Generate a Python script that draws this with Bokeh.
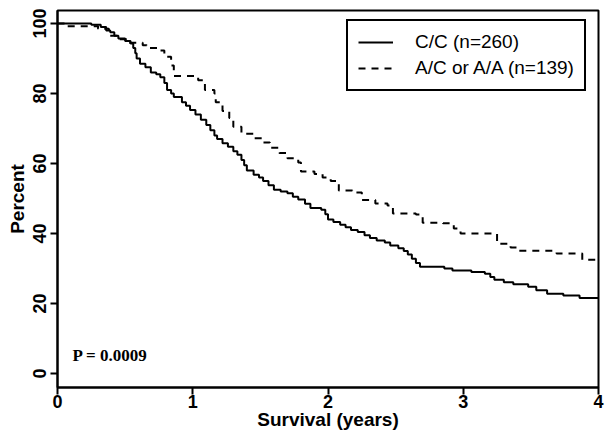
from bokeh.plotting import figure
from bokeh.models import Range1d, FixedTicker, Label, Legend
from bokeh.embed import file_html
from bokeh.resources import INLINE

# C/C (n=260) Kaplan-Meier steps (years, percent)
cc_t = [0, 0.25, 0.32, 0.36, 0.39, 0.42, 0.45, 0.50, 0.54, 0.56, 0.575, 0.585, 0.61, 0.65,
        0.69, 0.73, 0.76, 0.79, 0.81, 0.84, 0.86, 0.92, 0.95, 0.98, 1.02, 1.06, 1.10, 1.13,
        1.16, 1.18, 1.22, 1.26, 1.30, 1.33, 1.36, 1.38, 1.40, 1.45, 1.49, 1.52, 1.56, 1.60,
        1.65, 1.70, 1.74, 1.78, 1.83, 1.87, 1.95, 1.98, 2.00, 2.04, 2.09, 2.13, 2.17, 2.22,
        2.27, 2.31, 2.36, 2.42, 2.46, 2.52, 2.56, 2.59, 2.62, 2.65, 2.68, 2.86, 2.92, 3.06,
        3.16, 3.20, 3.23, 3.30, 3.37, 3.48, 3.54, 3.62, 3.74, 3.86, 4.0]
cc_s = [100, 99.6, 99, 98, 97.5, 96.5, 95.7, 95, 94.3, 93, 91.5, 90, 88.5, 87.5,
        86, 85.5, 84.6, 83, 81, 80, 79, 77.5, 76.5, 75.3, 74, 72.5, 71, 69.5,
        68, 67, 65.8, 64.8, 63.5, 62.5, 61, 59.5, 58, 56.8, 56, 55, 53.8, 52.5,
        52, 51.5, 50.5, 49.7, 48.5, 47.3, 46.8, 45.5, 44, 43.3, 42.5, 41.8, 41, 40.4,
        39.5, 38.7, 38, 37.4, 36.6, 35.8, 35, 34, 32.8, 31.6, 30.5, 30, 29.4, 29,
        28.5, 27.6, 26.8, 26.1, 25.5, 24.8, 23.8, 22.8, 22.3, 21.6, 21.6]

# A/C or A/A (n=139)
ac_t = [0, 0.07, 0.30, 0.38, 0.44, 0.53, 0.63, 0.66, 0.74, 0.79, 0.84, 0.86, 1.04, 1.09,
        1.16, 1.17, 1.22, 1.27, 1.30, 1.36, 1.45, 1.52, 1.57, 1.64, 1.70, 1.78, 1.80, 1.90,
        1.96, 2.02, 2.07, 2.08, 2.18, 2.25, 2.35, 2.44, 2.48, 2.65, 2.70, 2.85, 2.93, 2.98,
        3.25, 3.35, 3.40, 3.69, 3.88, 4.0]
ac_s = [100, 99.2, 98.5, 96.5, 95.5, 94.5, 93.8, 93, 92.3, 90.5, 88, 85, 83.8, 81,
        80, 77.5, 75, 73, 70.5, 68.5, 67.2, 66, 64.5, 63, 61.5, 60.3, 57.7, 57,
        56, 55, 54.2, 52.3, 51.7, 49.6, 48.6, 48, 45.7, 45.4, 43.1, 42.9, 41.4, 40,
        37.1, 36, 35.1, 34.3, 32.5, 32.5]

x_ticks = [0, 1, 2, 3, 4]
y_ticks = [0, 20, 40, 60, 80, 100]
label_cc = "C/C (n=260)"
label_ac = "A/C or A/A (n=139)"
p_text = "P = 0.0009"

p = figure(width=612, height=438, output_backend="svg", toolbar_location=None,
           x_range=Range1d(0, 4), y_range=Range1d(-4, 103.7),
           min_border_left=57, min_border_right=14, min_border_top=10, min_border_bottom=51)
p.xgrid.visible = False
p.ygrid.visible = False
p.outline_line_color = "black"
p.outline_line_width = 2
p.background_fill_color = "white"
p.border_fill_color = "white"

r1 = p.step(cc_t, cc_s, mode="after", line_color="black", line_width=2)
r2 = p.step(ac_t, ac_s, mode="after", line_color="black", line_width=2, line_dash="7 6")

for ax in (p.xaxis[0], p.yaxis[0]):
    ax.axis_line_width = 2
    ax.major_tick_line_width = 2
    ax.major_tick_out = 7
    ax.major_tick_in = 0
    ax.minor_tick_line_color = None
    ax.major_label_text_font = "Liberation Sans"
    ax.major_label_text_font_style = "bold"
    ax.major_label_text_font_size = "18px"
    ax.major_label_text_color = "black"
    ax.axis_label_text_font = "Liberation Sans"
    ax.axis_label_text_font_style = "bold"
    ax.axis_label_text_font_size = "19px"
    ax.axis_label_text_color = "black"

p.xaxis.ticker = FixedTicker(ticks=x_ticks)
p.yaxis.ticker = FixedTicker(ticks=y_ticks)
p.xaxis.axis_label = "Survival (years)"
p.yaxis.axis_label = "Percent"
p.yaxis.major_label_orientation = "vertical"
p.xaxis.major_label_standoff = 0
p.yaxis.major_label_standoff = 4
p.xaxis.axis_label_standoff = -2
p.yaxis.axis_label_standoff = 3

legend = Legend(items=[(label_cc, [r1]), (label_ac, [r2])], location=(289, 296))
legend.border_line_color = "black"
legend.border_line_alpha = 1
legend.border_line_width = 2
legend.background_fill_color = "white"
legend.background_fill_alpha = 1
legend.label_text_font = "Liberation Sans"
legend.label_text_font_size = "19px"
legend.label_text_color = "black"
legend.padding = 10
legend.spacing = 4
legend.margin = 0
legend.glyph_width = 35
legend.glyph_height = 20
legend.label_height = 20
legend.label_standoff = 22
p.add_layout(legend, "center")

lab = Label(x=0.11, y=5.1, text=p_text, text_font="Liberation Serif", text_font_style="bold",
            text_font_size="17px", text_baseline="middle", text_color="black")
p.add_layout(lab)

open("out.html", "w").write(file_html(p, INLINE))
